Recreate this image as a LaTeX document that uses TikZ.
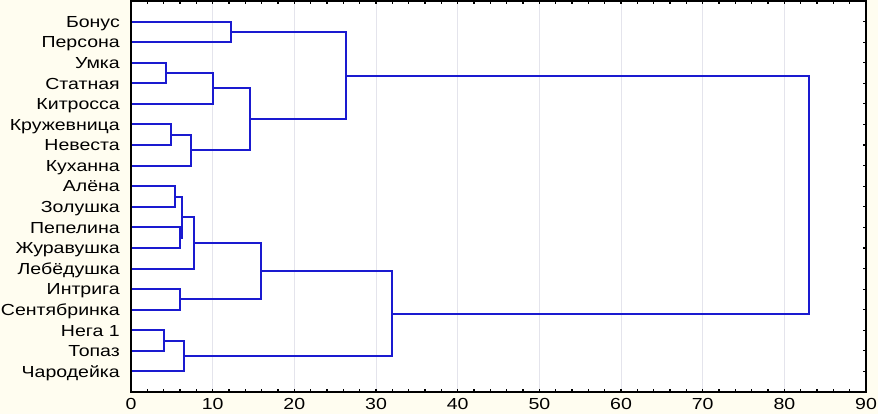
\documentclass[tikz,border=0pt]{standalone}
\usepackage{fontspec}
\setmainfont{Liberation Sans}[FakeStretch=1.22]
\definecolor{cream}{HTML}{FFFDF0}
\definecolor{dendro}{HTML}{1A1AD0}
\definecolor{gridc}{HTML}{E4E4EC}
\begin{document}
\begin{tikzpicture}[x=1pt,y=1pt,
  leaflab/.style={anchor=east,inner sep=0pt,text height=11.5pt,text depth=0pt,font=\fontsize{16}{16}\selectfont},
  ticklab/.style={anchor=center,inner sep=0pt,font=\fontsize{16}{16}\selectfont},
  link/.style={draw=dendro,line width=2pt},
  frame/.style={draw=black,line width=1.9pt},
  gridline/.style={draw=gridc,line width=1pt},
  tickmark/.style={draw=black,line width=1.2pt}]
\fill[cream] (0,0) rectangle (878,414);
\useasboundingbox (0,0) rectangle (878,414);
\begin{scope}[shift={(131,413)},x=8.167pt,y=-20.58pt]
  \fill[white] (0,0) rectangle (90,19);
  % grid
  \foreach \v in {10,20,...,80} \draw[gridline] (\v,0) -- (\v,19);
  % ticks top and bottom
  \foreach \v in {2,4,...,88} {
    \draw[tickmark] (\v,0) -- ++(0,0.13);
    \draw[tickmark] (\v,19) -- ++(0,-0.13);
  }
  \foreach \i in {1,...,18} \draw[tickmark] (90,\i) -- ++(-0.35,0);
  % tick labels
  \foreach \v in {0,10,...,90} \node[ticklab] (t\v) at (\v,19.58) {\v};
  % leaves
  \foreach \i/\name in {1/Бонус,2/Персона,3/Умка,4/Статная,5/Китросса,6/Кружевница,7/Невеста,8/Куханна,9/Алёна,10/Золушка,11/Пепелина,12/Журавушка,13/Лебёдушка,14/Интрига,15/Сентябринка,16/Нега 1,17/Топаз,18/Чародейка} {
    \coordinate (p\i) at (0,\i);
    \node[leaflab] (l\i) at (-1.35,\i) {\name};
  }
  % merges
  \coordinate (m1) at (12.3,1.5);
  \coordinate (m2) at (4.25,3.5);
  \coordinate (m3) at (10.1,4.25);
  \coordinate (m4) at (4.9,6.5);
  \coordinate (m5) at (7.35,7.25);
  \coordinate (m6) at (14.6,5.75);
  \coordinate (m7) at (26.3,3.625);
  \coordinate (m8) at (5.4,9.5);
  \coordinate (m9) at (6.0,11.5);
  \coordinate (m10) at (6.3,10.5);
  \coordinate (m11) at (7.75,11.75);
  \coordinate (m12) at (6.05,14.5);
  \coordinate (m13) at (15.9,13.125);
  \coordinate (m14) at (4.1,16.5);
  \coordinate (m15) at (6.45,17.25);
  \coordinate (m16) at (32.0,15.1875);
  \coordinate (m17) at (83.0,9.40625);
  \draw[link] (p1) -| (m1) |- (p2);
  \draw[link] (p3) -| (m2) |- (p4);
  \draw[link] (m2) -| (m3) |- (p5);
  \draw[link] (p6) -| (m4) |- (p7);
  \draw[link] (m4) -| (m5) |- (p8);
  \draw[link] (m3) -| (m6) |- (m5);
  \draw[link] (m1) -| (m7) |- (m6);
  \draw[link] (p9) -| (m8) |- (p10);
  \draw[link] (p11) -| (m9) |- (p12);
  \draw[link] (m8) -| (m10) |- (m9);
  \draw[link] (m10) -| (m11) |- (p13);
  \draw[link] (p14) -| (m12) |- (p15);
  \draw[link] (m11) -| (m13) |- (m12);
  \draw[link] (p16) -| (m14) |- (p17);
  \draw[link] (m14) -| (m15) |- (p18);
  \draw[link] (m13) -| (m16) |- (m15);
  \draw[link] (m7) -| (m17) |- (m16);
  % frame
  \draw[frame] (0,0) rectangle (90,19);
\end{scope}
\end{tikzpicture}
\end{document}
